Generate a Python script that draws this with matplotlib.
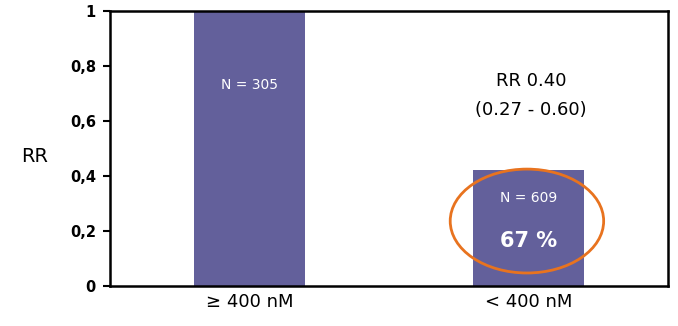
import matplotlib.pyplot as plt
from matplotlib.patches import Ellipse

# data
categories = ['≥ 400 nM', '< 400 nM']
rr_values = [1.0, 0.42]
n_labels = ['N = 305', 'N = 609']
pct_label = '67 %'
yticks = [0, 0.2, 0.4, 0.6, 0.8, 1]
ytick_labels = ['0', '0,2', '0,4', '0,6', '0,8', '1']

bar_color = '#63609b'
ring_color = '#e8731f'

fig = plt.figure(figsize=(6.78, 3.26), dpi=100)
ax = fig.add_axes([0.162, 0.123, 0.823, 0.843])

x = range(len(categories))
ax.bar(x, rr_values, width=0.40, color=bar_color, zorder=2)

ax.set_xlim(-0.5, 1.5)
ax.set_ylim(0, 1)
ax.set_yticks(yticks)
ax.set_yticklabels(ytick_labels, fontsize=10.5, fontweight='bold')
ax.set_xticks(list(x))
ax.set_xticklabels(categories, fontsize=13)
ax.tick_params(axis='x', length=0, pad=5)
ax.tick_params(axis='y', length=5, width=1.5, pad=5)
for s in ax.spines.values():
    s.set_linewidth(1.8)

ax.set_ylabel('RR', fontsize=14, rotation=0, va='center', ha='center')
ax.yaxis.set_label_coords(-0.135, 0.47)

# texts in the bars
ax.text(0, 0.73, n_labels[0], color='white', ha='center', va='center', fontsize=10)
ax.text(1, 0.32, n_labels[1], color='white', ha='center', va='center', fontsize=10)
ax.text(1, 0.165, pct_label, color='white', ha='center', va='center',
        fontsize=15, fontweight='bold')

# relative risk annotation
ax.text(1.01, 0.745, 'RR 0.40', ha='center', va='center', fontsize=13)
ax.text(1.01, 0.64, '(0.27 - 0.60)', ha='center', va='center', fontsize=13)

ring = Ellipse((0.995, 0.236), 0.55, 0.378, fill=False, edgecolor=ring_color,
               linewidth=2, zorder=3, clip_on=False)
ax.add_patch(ring)

plt.savefig('out.png')
